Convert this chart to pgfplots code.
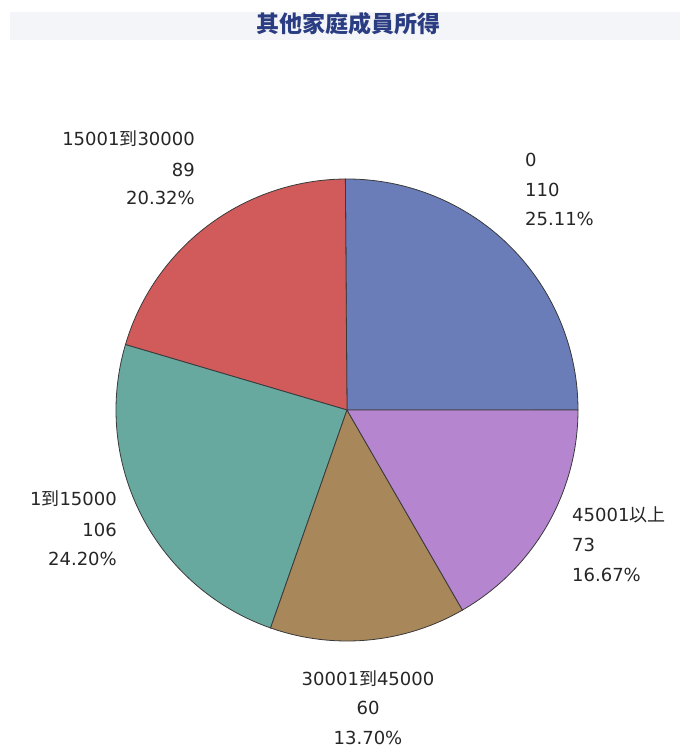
\documentclass[border=0pt]{standalone}
\usepackage{fontspec}
\setmainfont{DejaVu Sans}
\newfontfamily\cjk{Noto Sans CJK TC}
\usepackage{pgfplots}
\pgfplotsset{compat=1.18}
\definecolor{cA}{HTML}{6A7DB8}
\definecolor{cB}{HTML}{D15B5B}
\definecolor{cC}{HTML}{67A89F}
\definecolor{cD}{HTML}{A8875A}
\definecolor{cE}{HTML}{B585CF}
\definecolor{edge}{HTML}{3A3A3A}
\definecolor{titleblue}{HTML}{2B3D82}
\definecolor{band}{HTML}{F4F5F8}
% data: counts of each group
\def\vA{110}% 0
\def\vB{89}%  15001到30000
\def\vC{106}% 1到15000
\def\vD{60}%  30001到45000
\def\vE{73}%  45001以上
\tikzset{lab/.style={inner sep=0pt, font=\fontsize{18bp}{21bp}\selectfont, text=black!85}}
\begin{document}
\begin{tikzpicture}
\pgfmathsetmacro{\tot}{\vA+\vB+\vC+\vD+\vE}
\pgfmathsetmacro{\aA}{0}
\pgfmathsetmacro{\aB}{\aA+360*(\vA/\tot)}
\pgfmathsetmacro{\aC}{\aB+360*(\vB/\tot)}
\pgfmathsetmacro{\aD}{\aC+360*(\vC/\tot)}
\pgfmathsetmacro{\aE}{\aD+360*(\vD/\tot)}
\pgfmathsetmacro{\aF}{360}
\begin{axis}[
  scale only axis, width=681bp, height=749bp,
  xmin=0, xmax=681, ymin=0, ymax=749,
  hide axis, clip=false,
  axis background/.style={fill=white},
]
\fill[band] (axis cs:10,709) rectangle (axis cs:680,737);
\node[anchor=center, inner sep=0pt, text=titleblue, font=\fontsize{23bp}{25bp}\selectfont\cjk\bfseries] at (axis cs:348,725) {其他家庭成員所得};

\addplot[fill=cA, draw=edge, line width=0.8bp, domain=\aA:\aB, samples=80] ({347+231*cos(x)},{339+231*sin(x)}) -- (axis cs:347,339) -- cycle;
\addplot[fill=cB, draw=edge, line width=0.8bp, domain=\aB:\aC, samples=80] ({347+231*cos(x)},{339+231*sin(x)}) -- (axis cs:347,339) -- cycle;
\addplot[fill=cC, draw=edge, line width=0.8bp, domain=\aC:\aD, samples=80] ({347+231*cos(x)},{339+231*sin(x)}) -- (axis cs:347,339) -- cycle;
\addplot[fill=cD, draw=edge, line width=0.8bp, domain=\aD:\aE, samples=80] ({347+231*cos(x)},{339+231*sin(x)}) -- (axis cs:347,339) -- cycle;
\addplot[fill=cE, draw=edge, line width=0.8bp, domain=\aE:\aF, samples=80] ({347+231*cos(x)},{339+231*sin(x)}) -- (axis cs:347,339) -- cycle;

% labels
\node[lab, anchor=base west] at (axis cs:525,582) {0};
\node[lab, anchor=base west] at (axis cs:525,552) {110};
\node[lab, anchor=base west] at (axis cs:525,523) {25.11\%};

\node[lab, anchor=base east] at (axis cs:195,603) {15001{\cjk 到}30000};
\node[lab, anchor=base east] at (axis cs:195,572) {89};
\node[lab, anchor=base east] at (axis cs:195,544) {20.32\%};

\node[lab, anchor=base east] at (axis cs:117,243) {1{\cjk 到}15000};
\node[lab, anchor=base east] at (axis cs:117,212.5) {106};
\node[lab, anchor=base east] at (axis cs:117,183) {24.20\%};

\node[lab, anchor=base west] at (axis cs:572,227) {45001{\cjk 以上}};
\node[lab, anchor=base west] at (axis cs:572,197) {73};
\node[lab, anchor=base west] at (axis cs:572,167) {16.67\%};

\node[lab, anchor=base] at (axis cs:368,63) {30001{\cjk 到}45000};
\node[lab, anchor=base] at (axis cs:368,34) {60};
\node[lab, anchor=base] at (axis cs:368,5) {13.70\%};
\end{axis}
\end{tikzpicture}
\end{document}
